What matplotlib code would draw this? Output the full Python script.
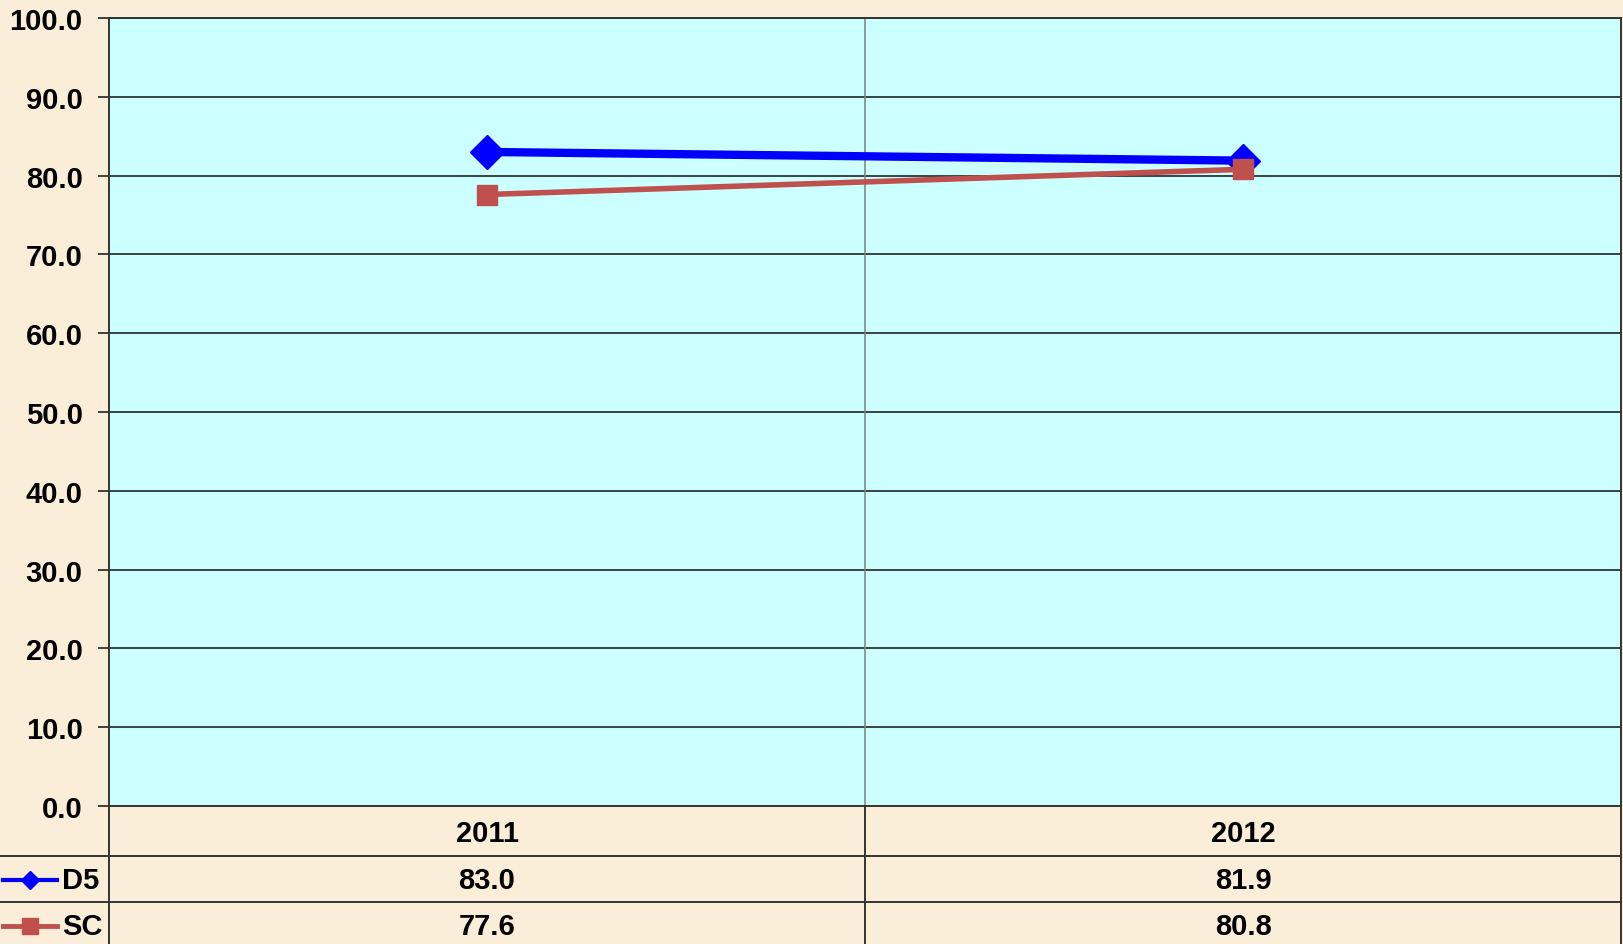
import numpy as np
import matplotlib
matplotlib.use('Agg')
import matplotlib.pyplot as plt
from matplotlib.ticker import MultipleLocator, FormatStrFormatter

years = ['2011', '2012']
series_names = ['D5', 'SC']
d5_values = [83.0, 81.9]
sc_values = [77.6, 80.8]

BG = '#FBEED8'
PLOT_BG = '#CCFFFF'
BLUE = '#0000FF'
RED = '#C0504D'

plt.rcParams['font.family'] = ['Liberation Sans', 'DejaVu Sans']
plt.rcParams['font.weight'] = 'bold'
fs = 21

W, H = 1623, 945
fig = plt.figure(figsize=(W / 100, H / 100), dpi=100)
fig.patch.set_facecolor(BG)

# plot area in pixels
left, right, top, bottom = 109, 1621, 19, 807
ax = fig.add_axes([left / W, 1 - bottom / H, (right - left) / W, (bottom - top) / H])
ax.set_facecolor(PLOT_BG)

x = np.arange(len(years))
ax.set_xlim(-0.5, len(years) - 0.5)
ax.set_ylim(0, 100)
ax.yaxis.set_major_locator(MultipleLocator(10))
ax.yaxis.set_major_formatter(FormatStrFormatter('%.1f'))
ax.set_xticks([])
ax.tick_params(axis='y', length=8, width=1.2, pad=11, labelsize=fs, color='#222222')
for lab in ax.get_yticklabels():
    lab.set_fontweight('bold')

for yv in range(10, 101, 10):
    ax.axhline(yv, color='#111111', lw=1.1, zorder=1)
ax.axvline(0.5, color='#808080', lw=1.1, zorder=1)

for s in ax.spines.values():
    s.set_color('#333333')
    s.set_linewidth(1.4)

ax.plot(x, d5_values, color=BLUE, lw=6, marker='D', ms=17, mec=BLUE, mfc=BLUE, zorder=3)
ax.plot(x, sc_values, color=RED, lw=4, marker='s', ms=14, mec=RED, mfc=RED, zorder=4)

# data table below the plot
tab = fig.add_axes([0, 0, right / W, 1 - bottom / H])
tab.patch.set_alpha(0)
scale = (len(years)) / (right - left)
def px(p):
    return -0.5 + (p - left) * scale
tab.set_xlim(px(0), len(years) - 0.5)
tab.set_ylim(H - bottom, 0)
tab.axis('off')

row_lines = [50, 96]
for ry in row_lines:
    tab.plot([px(0), len(years) - 0.5], [ry, ry], color='#333333', lw=1.4, clip_on=False)
tab.plot([-0.5, -0.5], [0, H - bottom], color='#333333', lw=1.4, clip_on=False)
tab.plot([0.5, 0.5], [0, H - bottom], color='#333333', lw=1.4, clip_on=False)
tab.plot([len(years) - 0.5] * 2, [0, H - bottom], color='#333333', lw=1.4, clip_on=False)

row_y = [27, 74, 120]
for i, yr in enumerate(years):
    tab.text(i, row_y[0], yr, ha='center', va='center', fontsize=fs, fontweight='bold')
    tab.text(i, row_y[1], f'{d5_values[i]:.1f}', ha='center', va='center', fontsize=fs, fontweight='bold')
    tab.text(i, row_y[2], f'{sc_values[i]:.1f}', ha='center', va='center', fontsize=fs, fontweight='bold')

# legend keys in the table
keys = [(BLUE, 'D', 9, 3), (RED, 's', 12, 3.5)]
for (col, mk, ms, lw), name, ry in zip(keys, series_names, row_y[1:]):
    tab.plot([px(3), px(57)], [ry, ry], color=col, lw=lw, clip_on=False)
    tab.plot([px(30)], [ry], color=col, marker=mk, ms=ms, clip_on=False)
    tab.text(px(62), ry, name, ha='left', va='center', fontsize=fs, fontweight='bold')

fig.savefig('out.png', dpi=100, facecolor=BG)
